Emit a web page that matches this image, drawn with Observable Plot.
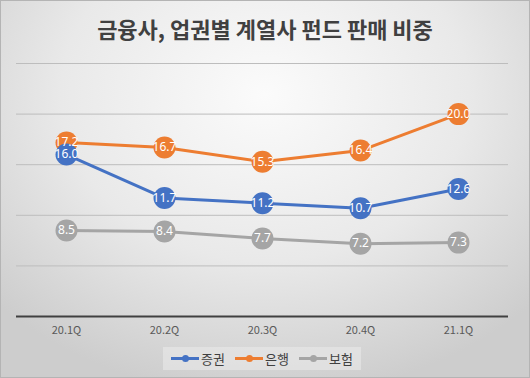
<!DOCTYPE html>
<html><head><meta charset="utf-8">
<script src="https://cdn.jsdelivr.net/npm/d3@7"></script>
<script src="https://cdn.jsdelivr.net/npm/@observablehq/plot@0.6"></script>
<style>
body{margin:0;}
#wrap{position:relative;width:530px;height:378px;overflow:hidden;
 background:radial-gradient(ellipse 70% 80% at 50% 25%, #fbfbfb 0%, #e9e9e9 55%, #cdcdcd 100%);
 box-shadow:inset 0 0 0 1px #b4b4b4;font-family:"Noto Sans CJK KR","Malgun Gothic",sans-serif;}
#title{position:absolute;left:0;top:12px;width:530px;text-align:center;font-size:22px;font-weight:bold;color:#404040;line-height:32px;}
#chart{position:absolute;left:0;top:45px;}
#legend{position:absolute;left:163px;top:347px;width:198px;height:23px;background:rgba(235,235,235,0.55);display:flex;align-items:center;justify-content:center;gap:10px;font-size:13px;color:#404040;}
.item{display:flex;align-items:center;gap:2px;}
.sw{position:relative;width:28px;height:3px;}
.sw i{position:absolute;left:11px;top:-2.5px;width:7px;height:7px;border-radius:50%;}
</style></head>
<body><div id="wrap"><div id="title">금융사, 업권별 계열사 펀드 판매 비중</div><div id="chart"></div><div id="legend"></div></div>
<script>
const categories = ["20.1Q","20.2Q","20.3Q","20.4Q","21.1Q"];
const seriesNames = ["증권","은행","보험"];
const securities = [16.0, 11.7, 11.2, 10.7, 12.6];
const bank = [17.2, 16.7, 15.3, 16.4, 20.0];
const insurance = [8.5, 8.4, 7.7, 7.2, 7.3];
const colors = ["#4472C4","#ED7D31","#A5A5A5"];
const yTicks = [0,5,10,15,20,25];

const valuesBy = {"증권":securities,"은행":bank,"보험":insurance};
const drawOrder = ["은행","증권","보험"];
const data = [];
for (const s of drawOrder) categories.forEach((c,i)=>data.push({series:s,cat:c,value:valuesBy[s][i]}));

const color = {domain: seriesNames, range: colors};
const chart = Plot.plot({
  width:530, height:295,
  marginLeft:16, marginRight:22, marginTop:18, marginBottom:24,
  style:{background:"transparent", fontFamily:"'Noto Sans CJK KR', sans-serif"},
  x:{type:"point", domain:categories, padding:0.5, label:null},
  y:{domain:[0,25], label:null, axis:null},
  color,
  marks:[
    Plot.ruleY(yTicks.filter(d=>d>0), {stroke:"#bdbdbd", strokeWidth:1}),
    Plot.ruleY([0], {stroke:"#404040", strokeWidth:2}),
    Plot.axisX({tickSize:0, tickPadding:10, fontSize:11, color:"#595959"}),
    ...drawOrder.map(s=>Plot.line(data.filter(d=>d.series===s), {x:"cat", y:"value", stroke:"series", strokeWidth:3})),
    ...drawOrder.map(s=>Plot.dot(data.filter(d=>d.series===s), {x:"cat", y:"value", fill:"series", r:11})),
    Plot.text(data, {x:"cat", y:"value", text:d=>d.value.toFixed(1), fill:"white", fontSize:12, fontFamily:"'Noto Sans', sans-serif"})
  ]
});
document.getElementById("chart").appendChild(chart);

const lg = document.getElementById("legend");
seriesNames.forEach((s,i)=>{
  const it = document.createElement("div"); it.className="item";
  it.innerHTML = `<span class="sw" style="background:${colors[i]}"><i style="background:${colors[i]}"></i></span><span>${s}</span>`;
  lg.appendChild(it);
});
</script></body></html>
